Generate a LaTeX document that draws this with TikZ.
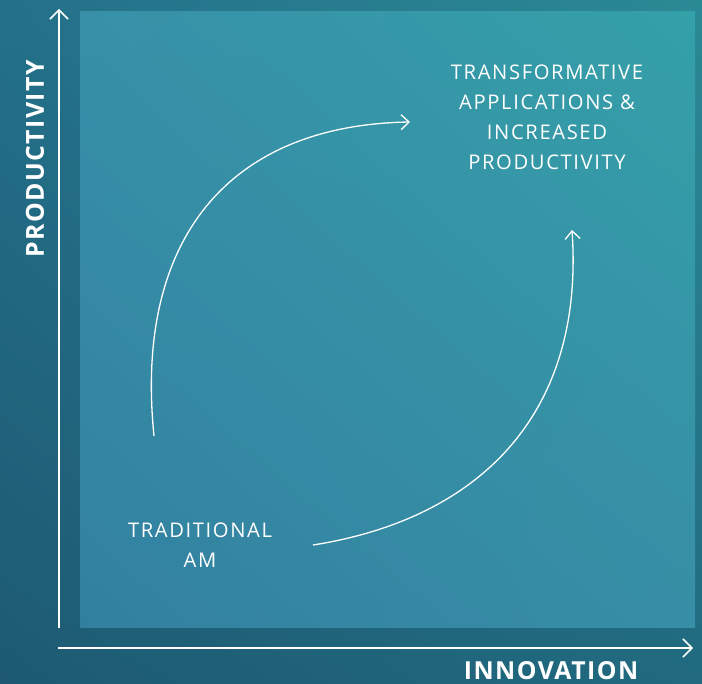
\documentclass[tikz,border=0pt]{standalone}
\usepackage{fontspec}
\setmainfont{Open Sans}
\newfontfamily\lblfont[LetterSpace=8]{Open Sans}
\newfontfamily\axfont[LetterSpace=6]{Open Sans Bold}
\usetikzlibrary{arrows.meta,shadings}
\definecolor{bgUL}{HTML}{24708A}
\definecolor{bgUR}{HTML}{2A8A94}
\definecolor{bgLL}{HTML}{1D5A72}
\definecolor{bgLR}{HTML}{216A80}
\definecolor{inUL}{HTML}{3790A8}
\definecolor{inUR}{HTML}{34A0A8}
\definecolor{inLL}{HTML}{3280A0}
\definecolor{inLR}{HTML}{378EA6}
\tikzset{
  axis/.style={white, line width=1.5pt, -{Straight Barb[length=9pt,width=18pt,line width=1.5pt]}},
  flow/.style={white, line width=1.3pt, -{Straight Barb[length=8pt,width=15pt,line width=1.3pt]}},
  body/.style={text=white, align=center, font=\lblfont\fontsize{20.2}{30}\selectfont},
  axlabel/.style={text=white, font=\axfont\fontsize{24.8}{28}\selectfont}
}
\begin{document}
\begin{tikzpicture}[x=1pt,y=-1pt]
\useasboundingbox (0,0) rectangle (702,684);
\shade[upper left=bgUL, upper right=bgUR, lower left=bgLL, lower right=bgLR] (0,0) rectangle (702,684);
\shade[upper left=inUL, upper right=inUR, lower left=inLL, lower right=inLR] (80,12) rectangle (695,627);
\coordinate (o) at (59,648);
\coordinate (ytip) at (59,9);
\coordinate (xtip) at (693,648);
\draw[axis] (59,628) -- (ytip);
\draw[axis] (58.25,648) -- (xtip);
\node[axlabel, rotate=90] (ylab) at (35,159) {PRODUCTIVITY};
\node[axlabel] (xlab) at (551,671) {INNOVATION};
\node[body] (top) at (547,117) {TRANSFORMATIVE\\APPLICATIONS \&\\INCREASED\\PRODUCTIVITY};
\node[body] (trad) at (200,545) {TRADITIONAL\\AM};
\coordinate (c1s) at (154,436);
\coordinate (c1e) at (410,122);
\coordinate (c2s) at (313,545);
\coordinate (c2e) at (572,230);
\draw[flow] (c1s) .. controls (134,240) and (228,125) .. (c1e);
\draw[flow] (c2s) .. controls (473,520) and (585,420) .. (c2e);
\end{tikzpicture}
\end{document}
